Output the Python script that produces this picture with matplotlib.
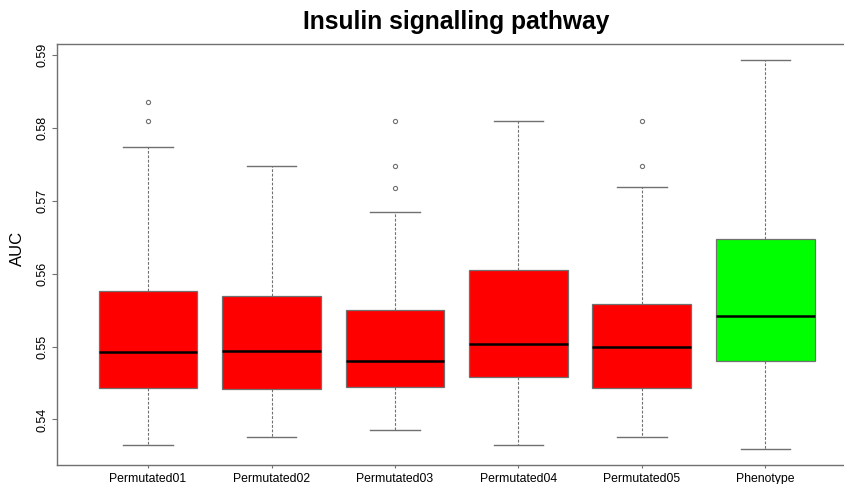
import matplotlib
matplotlib.use("Agg")
import matplotlib.pyplot as plt

# box statistics (AUC)
groups = ["Permutated01", "Permutated02", "Permutated03",
          "Permutated04", "Permutated05", "Phenotype"]
whisker_low = [0.53646, 0.53756, 0.53856, 0.53646, 0.53756, 0.53591]
q1 = [0.54432, 0.54423, 0.54442, 0.54583, 0.54432, 0.54802]
medians = [0.54922, 0.54940, 0.54802, 0.55031, 0.54990, 0.55416]
q3 = [0.55767, 0.55698, 0.55498, 0.56047, 0.55580, 0.56472]
whisker_high = [0.57742, 0.57482, 0.56851, 0.58095, 0.57185, 0.58927]
outliers = [[0.58095, 0.58355], [], [0.57180, 0.57482, 0.58095],
            [], [0.57482, 0.58099], []]
colors = ["#FF0000"] * 5 + ["#00FF00"]

plt.rcParams['font.family'] = ['Liberation Sans', 'DejaVu Sans']

fig = plt.figure(figsize=(8.45, 4.84), dpi=100)
ax = fig.add_axes([0.0671, 0.0393, 0.9467, 0.8692])

stats = []
for i, name in enumerate(groups):
    stats.append({
        "label": name,
        "whislo": whisker_low[i],
        "q1": q1[i],
        "med": medians[i],
        "q3": q3[i],
        "whishi": whisker_high[i],
        "fliers": outliers[i],
    })

edge = "#707070"
bp = ax.bxp(stats, positions=range(1, len(groups) + 1), widths=0.8,
            capwidths=0.4, patch_artist=True, showfliers=True,
            boxprops=dict(edgecolor=edge, linewidth=0.9),
            whiskerprops=dict(color=edge, linestyle=(0, (2.5, 1.5)), linewidth=0.8),
            capprops=dict(color=edge, linewidth=1.0),
            medianprops=dict(color="black", linewidth=1.8),
            flierprops=dict(marker="o", markersize=3, markerfacecolor="none",
                            markeredgecolor=edge, markeredgewidth=0.8))

for patch, c in zip(bp["boxes"], colors):
    patch.set_facecolor(c)

ax.set_xlim(0.26, 6.74)
ax.set_ylim(0.53376, 0.59147)
ax.set_yticks([0.54, 0.55, 0.56, 0.57, 0.58, 0.59])
ax.set_yticklabels(["0.54", "0.55", "0.56", "0.57", "0.58", "0.59"],
                   rotation=90, va="center", fontsize=9)
ax.set_xticks(range(1, len(groups) + 1))
ax.set_xticklabels(groups, fontsize=8.8)

ax.tick_params(axis="y", length=3.6, width=0.8, color=edge, pad=2.5)
ax.tick_params(axis="x", length=2.5, width=0.8, color=edge, pad=3)
for s in ax.spines.values():
    s.set_color(edge)
    s.set_linewidth(1.0)
ax.spines["right"].set_visible(False)

ax.set_ylabel("AUC", fontsize=12)
ax.yaxis.set_label_coords(-0.0396, 0.515)
ax.set_title("Insulin signalling pathway", fontsize=17.7, fontweight="bold", pad=11)

fig.savefig("out.png", dpi=100)
